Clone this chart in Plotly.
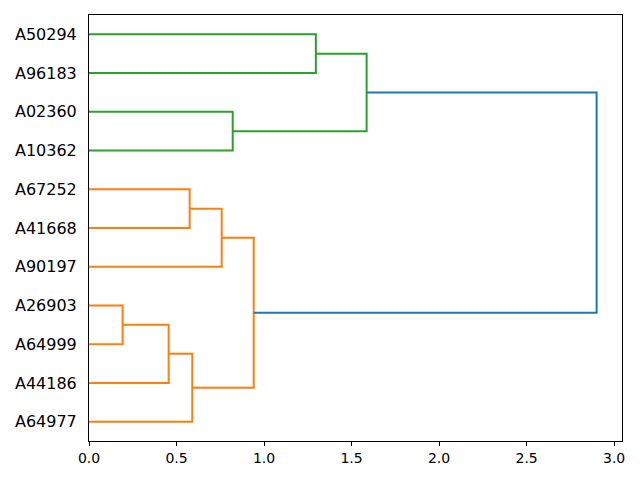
import plotly.graph_objects as go

# Leaf labels, bottom to top (scipy leaf positions 5, 15, 25, ...)
labels = ["A64977", "A44186", "A64999", "A26903", "A90197", "A41668",
          "A67252", "A10362", "A02360", "A96183", "A50294"]

# Linkage: (child_a, child_b, height); new clusters numbered from len(labels)
merge_a = [3, 11, 6, 12, 13, 8, 15, 10, 18, 19]
merge_b = [2, 1, 5, 0, 4, 7, 14, 9, 16, 17]
heights = [0.192, 0.455, 0.575, 0.590, 0.758, 0.821, 0.941, 1.296, 1.586, 2.90]
link_colors = ["#ff7f0e", "#ff7f0e", "#ff7f0e", "#ff7f0e", "#ff7f0e",
               "#2ca02c", "#ff7f0e", "#2ca02c", "#2ca02c", "#1f77b4"]

n = len(labels)
pos = {i: 5 + 10 * i for i in range(n)}
hgt = {i: 0.0 for i in range(n)}

fig = go.Figure()
for k, (a, b, h) in enumerate(zip(merge_a, merge_b, heights)):
    ya, yb = pos[a], pos[b]
    fig.add_trace(go.Scatter(
        x=[hgt[a], h, h, hgt[b]], y=[ya, ya, yb, yb],
        mode="lines", line=dict(color=link_colors[k], width=2),
        hoverinfo="skip", showlegend=False))
    pos[n + k] = (ya + yb) / 2
    hgt[n + k] = h

# page body has an 8px margin, so the figure is sized to fit the window
fig.update_layout(
    width=632, height=472,
    margin=dict(l=81, r=18, t=7, b=39),
    paper_bgcolor="white", plot_bgcolor="white",
    font=dict(family="DejaVu Sans", color="black"),
    showlegend=False,
)
fig.update_xaxes(
    range=[0, max(heights) * 1.05],
    tickvals=[0, 0.5, 1.0, 1.5, 2.0, 2.5, 3.0],
    ticktext=["0.0", "0.5", "1.0", "1.5", "2.0", "2.5", "3.0"],
    ticks="outside", ticklen=4, tickcolor="black", tickwidth=1,
    tickfont=dict(size=14), automargin=False,
    showline=True, linecolor="black", linewidth=1, mirror=True,
    showgrid=False, zeroline=False,
)
fig.update_yaxes(
    range=[0, 10 * n],
    tickvals=[5 + 10 * i for i in range(n)], ticktext=labels,
    ticks="", tickfont=dict(size=16), ticklabelstandoff=8, automargin=False,
    showline=True, linecolor="black", linewidth=1, mirror=True,
    showgrid=False, zeroline=False,
)
fig.write_html("out.html")
